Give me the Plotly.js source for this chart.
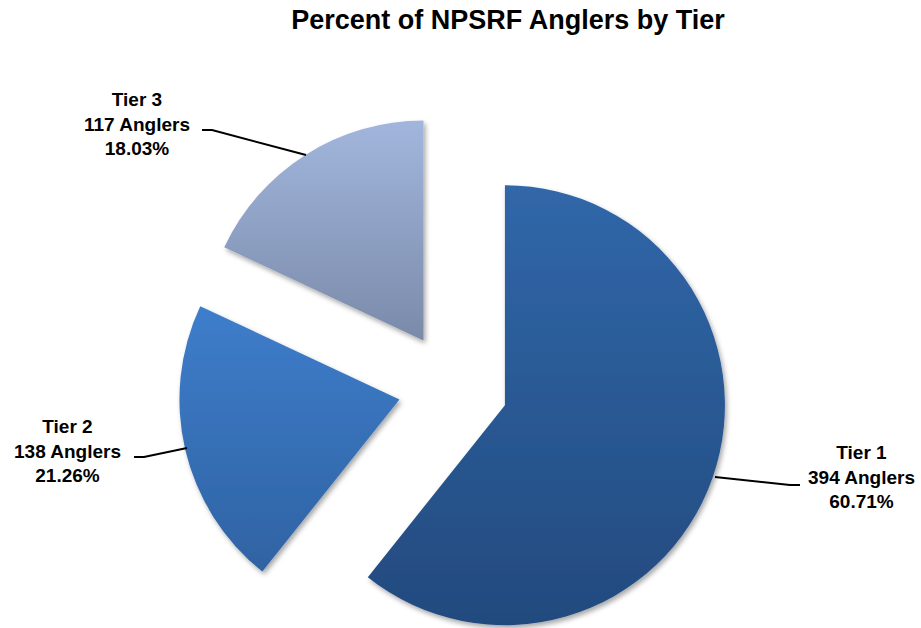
<!DOCTYPE html>
<html><head><meta charset="utf-8">
<script src="https://cdn.plot.ly/plotly-3.0.1.min.js"></script>
<style>html,body{margin:0;padding:0;background:#fff}</style>
</head><body>
<div id="chart" style="width:921px;height:628px"></div>
<script>
// ---- data ----
const tiers = ['Tier 1', 'Tier 2', 'Tier 3'];
const anglers = [394, 138, 117];
const percents = [60.71, 21.26, 18.03];
const chartTitle = 'Percent of NPSRF Anglers by Tier';

// ---- styles ----
const topColors = ['#3067A9', '#3E7DCB', '#A2B6DD'];
const bottomColors = ['#234A7E', '#2F63A3', '#7A8AA9'];
const midColors = ['#2A5893', '#3670B7', '#8EA0C3'];

const W = 921, H = 628;
const C = [453, 387], R = 220, PULL = 55;
const px = (x, y) => [x / W, 1 - y / H];

const total = anglers.reduce((a, b) => a + b, 0);
let cum = 0;
const traces = tiers.map((t, i) => {
  const frac = anglers[i] / total;
  const mid = (cum + frac / 2) * 2 * Math.PI;
  cum += frac;
  const cx = C[0] + PULL * Math.sin(mid);
  const cy = C[1] - PULL * Math.cos(mid);
  return {
    type: 'pie', values: anglers, labels: tiers, sort: false,
    direction: 'clockwise', rotation: 0,
    marker: {colors: tiers.map((_, j) => j === i ? midColors[i] : 'rgba(0,0,0,0)'), line: {width: 0}},
    textinfo: 'none', hoverinfo: 'skip', showlegend: false,
    domain: {x: [(cx - R) / W, (cx + R) / W], y: [1 - (cy + R) / H, 1 - (cy - R) / H]}
  };
});

// label positions (px) and leader lines (px)
const labelPos = [[861, 477], [67, 451], [137, 124]];
const leaders = [
  [[715, 477], [790, 485], [800, 485]],
  [[134, 457], [144, 457], [187, 448]],
  [[202, 130], [212, 130], [306, 155]]
];

const annotations = tiers.map((t, i) => {
  const p = px(labelPos[i][0], labelPos[i][1]);
  return {
    xref: 'paper', yref: 'paper', x: p[0], y: p[1], xanchor: 'center', yanchor: 'middle',
    showarrow: false, align: 'center',
    text: '<b>' + t + '<br>' + anglers[i] + ' Anglers<br>' + percents[i].toFixed(2) + '%</b>',
    font: {family: 'Liberation Sans, Arial, sans-serif', size: 19, color: '#000'}
  };
});

const shapes = leaders.map(pts => {
  const d = pts.map((q, k) => {
    const p = px(q[0], q[1]);
    return (k === 0 ? 'M' : 'L') + p[0].toFixed(5) + ',' + p[1].toFixed(5);
  }).join(' ');
  return {type: 'path', xref: 'paper', yref: 'paper', path: d, line: {color: '#000', width: 2}};
});

const layout = {
  width: W, height: H,
  margin: {l: 0, r: 0, t: 0, b: 0},
  paper_bgcolor: '#fff', plot_bgcolor: '#fff',
  title: {
    text: '<b>' + chartTitle + '</b>', x: 508 / W, xanchor: 'center', xref: 'paper',
    y: 1 - 20 / H, yanchor: 'middle', yref: 'container',
    font: {family: 'Liberation Sans, Arial, sans-serif', size: 27, color: '#000'}
  },
  annotations: annotations,
  shapes: shapes,
  showlegend: false
};

Plotly.newPlot('chart', traces, layout, {displayModeBar: false, staticPlot: true}).then(gd => {
  const svg = gd.querySelector('.main-svg');
  let defs = svg.querySelector('defs');
  const NS = 'http://www.w3.org/2000/svg';
  if (!defs) { defs = document.createElementNS(NS, 'defs'); svg.insertBefore(defs, svg.firstChild); }
  const filt = document.createElementNS(NS, 'filter');
  filt.setAttribute('id', 'sliceShadow');
  filt.setAttribute('x', '-10%'); filt.setAttribute('y', '-10%');
  filt.setAttribute('width', '130%'); filt.setAttribute('height', '130%');
  const ds = document.createElementNS(NS, 'feDropShadow');
  ds.setAttribute('dx', '2'); ds.setAttribute('dy', '3'); ds.setAttribute('stdDeviation', '2.5');
  ds.setAttribute('flood-color', '#000'); ds.setAttribute('flood-opacity', '0.35');
  filt.appendChild(ds); defs.appendChild(filt);
  tiers.forEach((t, i) => {
    const g = document.createElementNS(NS, 'linearGradient');
    g.setAttribute('id', 'sliceGrad' + i);
    g.setAttribute('x1', '0'); g.setAttribute('y1', '0'); g.setAttribute('x2', '0'); g.setAttribute('y2', '1');
    [[0, topColors[i]], [1, bottomColors[i]]].forEach(([o, c]) => {
      const s = document.createElementNS(NS, 'stop');
      s.setAttribute('offset', o); s.setAttribute('stop-color', c);
      g.appendChild(s);
    });
    defs.appendChild(g);
  });
  const traceGroups = gd.querySelectorAll('.pielayer .trace');
  traceGroups.forEach((tg, i) => {
    const slices = tg.querySelectorAll('.slice');
    slices.forEach((sl, j) => {
      const path = sl.querySelector('path.surface');
      if (!path) return;
      if (j === i) {
        path.style.fill = 'url(#sliceGrad' + i + ')';
        path.style.filter = 'url(#sliceShadow)';
      } else {
        path.style.display = 'none';
      }
    });
  });
});
</script>
</body></html>
